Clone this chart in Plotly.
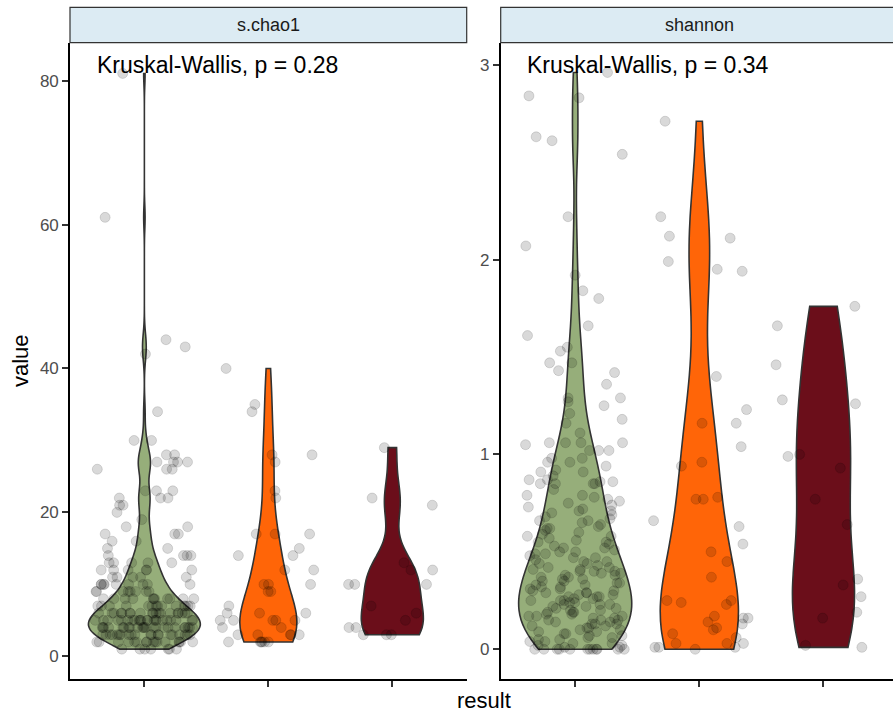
import numpy as np
import plotly.graph_objects as go

W, H = 893, 715

# ---------------- data ----------------
colors = ["#96AE7A", "#FF6508", "#6B0E1A"]

chao1_g1 = [1, 1, 1, 1, 1, 1, 1,
            2, 2, 2, 2, 2, 2, 2, 2, 2, 2, 2, 2, 2, 2, 2, 2,
            3, 3, 3, 3, 3, 3, 3, 3, 3, 3, 3, 3, 3, 3, 3, 3, 3, 3, 3, 3,
            4, 4, 4, 4, 4, 4, 4, 4, 4, 4, 4, 4, 4, 4, 4, 4, 4, 4, 4, 4, 4, 4, 4,
            5, 5, 5, 5, 5, 5, 5, 5, 5, 5, 5, 5, 5, 5, 5, 5, 5, 5, 5, 5, 5, 5,
            6, 6, 6, 6, 6, 6, 6, 6, 6, 6, 6, 6, 6, 6, 6, 6, 6, 6, 6,
            7, 7, 7, 7, 7, 7, 7, 7, 7, 7, 7, 7, 7, 7,
            8, 8, 8, 8, 8, 8, 8, 8, 8, 8, 8,
            9, 9, 9, 9, 9, 9, 9, 9,
            10, 10, 10, 10, 10, 10, 10, 10, 10,
            11, 11, 11, 11, 11,
            12, 12, 12, 12, 12, 12,
            13, 13, 13, 13, 13,
            14, 14, 14, 14,
            15, 15, 16, 16, 17, 17, 17, 18, 18, 19, 20,
            21, 21, 22, 22, 22, 23, 23, 23,
            26, 26, 26, 27, 27, 27, 27, 28, 28, 30, 30, 34,
            42, 43, 44, 61, 81]
chao1_g2 = [40, 35, 34, 28, 28, 27, 23, 22, 17, 17, 17, 15, 14, 14, 12, 12,
            10, 10, 10, 9, 9, 7, 6, 6, 6, 5, 5, 5, 5, 5, 4, 4, 3, 3, 3, 3, 3,
            2, 2, 2, 2, 2, 2]
chao1_g3 = [29, 22, 21, 13, 12, 12, 10, 10, 10, 7, 6, 5, 4, 4, 3, 3, 3]

shannon_g1 = [2.96, 2.83, 2.84, 2.63, 2.61, 2.54, 2.22, 2.07, 1.92, 1.84, 1.80,
              1.66, 1.61, 1.55, 1.53, 1.47, 1.47, 1.43, 1.42, 1.36, 1.29, 1.29,
              1.27, 1.25, 1.21, 1.18, 1.16, 1.11, 1.06, 1.06, 1.06, 1.06, 1.05,
              1.02, 1.02, 1.02,
              0.98, 0.98, 0.96, 0.94, 0.96, 0.91, 0.92, 0.91, 0.86, 0.85, 0.85,
              0.89, 0.87, 0.85, 0.86, 0.87, 0.85, 0.82, 0.79, 0.79,
              0.78, 0.77, 0.76, 0.75, 0.74, 0.73, 0.72, 0.71, 0.71, 0.70,
              0.69, 0.68, 0.67, 0.66, 0.66, 0.65, 0.64, 0.63, 0.62, 0.62, 0.61, 0.60,
              0.59, 0.58, 0.58, 0.57, 0.56, 0.55, 0.55, 0.54, 0.53, 0.52, 0.52,
              0.51, 0.50, 0.50,
              0.49, 0.49, 0.48, 0.47, 0.47, 0.46, 0.45, 0.45, 0.44, 0.44, 0.43,
              0.42, 0.42, 0.41, 0.41, 0.40, 0.40, 0.40,
              0.39, 0.39, 0.38, 0.38, 0.37, 0.37, 0.36, 0.36, 0.35, 0.35, 0.34,
              0.34, 0.33, 0.33, 0.32, 0.32, 0.31, 0.31, 0.30, 0.30,
              0.29, 0.29, 0.29, 0.28, 0.28, 0.27, 0.27, 0.27, 0.26, 0.26, 0.25,
              0.25, 0.25, 0.24, 0.24, 0.23, 0.23, 0.23, 0.22, 0.22, 0.21, 0.21,
              0.20, 0.20,
              0.19, 0.19, 0.19, 0.18, 0.18, 0.17, 0.17, 0.17, 0.16, 0.16, 0.15,
              0.15, 0.15, 0.14, 0.14, 0.13, 0.13, 0.13, 0.12, 0.12, 0.11, 0.11,
              0.10, 0.10,
              0.09, 0.09, 0.08, 0.08, 0.07, 0.07, 0.06, 0.06, 0.05, 0.05, 0.04,
              0.04, 0.03, 0.03, 0.02, 0.02, 0.01, 0.01,
              0.0, 0.0, 0.0, 0.0, 0.0, 0.0, 0.0, 0.0, 0.0, 0.0, 0.0, 0.0]
shannon_g2 = [2.71, 2.22, 2.11, 2.12, 1.99, 1.95, 1.94, 1.40, 1.23, 1.16, 1.16,
              1.04, 0.96, 0.94, 0.78, 0.77, 0.77, 0.66, 0.63, 0.54, 0.50, 0.45,
              0.37, 0.23, 0.25, 0.24, 0.25, 0.16, 0.16, 0.17, 0.13, 0.14, 0.11,
              0.10, 0.08, 0.03, 0.06, 0.03, 0.03, 0.01, 0.01, 0.00, 0.01]
shannon_g3 = [1.76, 1.66, 1.46, 1.26, 1.28, 1.00, 0.99, 0.93, 0.77, 0.64, 0.36,
              0.33, 0.27, 0.16, 0.19, 0.02, 0.01]

facets = ["s.chao1", "shannon"]
p_values = [0.28, 0.34]
chao1_ticks = [0, 20, 40, 60, 80]
shannon_ticks = [0, 1, 2, 3]

chao1_data = [chao1_g1, chao1_g2, chao1_g3]
shannon_data = [shannon_g1, shannon_g2, shannon_g3]

# visual max widths of each violin (ggplot scale="area" look), in category units
chao1_widths = [0.90, 0.46, 0.50]
shannon_widths = [0.91, 0.63, 0.50]


def nrd0(v):
    v = np.asarray(v, dtype=float)
    sd = np.std(v, ddof=1)
    q75, q25 = np.percentile(v, [75, 25])
    lo = min(sd, (q75 - q25) / 1.34)
    if lo == 0:
        lo = sd if sd > 0 else 1.0
    return 0.9 * lo * len(v) ** -0.2


def jitter(n, seed, half=0.4):
    # deterministic hash-based horizontal spread (mimics geom_jitter width=0.4)
    out = []
    for k in range(n):
        h = np.sin((k + 1) * 12.9898 + seed * 78.233) * 43758.5453
        out.append(((h - np.floor(h)) - 0.5) * 2 * half)
    return out


fig = go.Figure()

panels = [("x", "y", chao1_data, chao1_widths), ("x2", "y2", shannon_data, shannon_widths)]

for xa, ya, data, widths in panels:
    for i, vals in enumerate(data):
        fig.add_trace(go.Violin(
            x0=i, y=vals, xaxis=xa, yaxis=ya,
            width=widths[i], scalemode="width", spanmode="hard",
            bandwidth=nrd0(vals), points=False,
            fillcolor=colors[i], opacity=1,
            line=dict(color="#333333", width=1.6),
            showlegend=False, hoverinfo="y",
        ))
for p, (xa, ya, data, widths) in enumerate(panels):
    for i, vals in enumerate(data):
        offs = jitter(len(vals), seed=p * 3 + i + 1)
        fig.add_trace(go.Scatter(
            x=[i + o for o in offs], y=vals, xaxis=xa, yaxis=ya,
            mode="markers",
            marker=dict(size=10, color="rgba(0,0,0,0.15)",
                        line=dict(width=0.8, color="rgba(0,0,0,0.16)")),
            showlegend=False, hoverinfo="y",
        ))


def px(xp):
    return xp / W


def py(yp):
    return 1 - yp / H


ydom = [py(679.3), py(42.7)]
axis_common = dict(showgrid=False, zeroline=False, showline=True,
                   linecolor="black", linewidth=1.6, ticks="outside",
                   ticklen=6, tickwidth=1.6, tickcolor="#333333",
                   tickfont=dict(family="Liberation Sans, Arial, sans-serif",
                                 size=17, color="#4D4D4D"))

fig.update_layout(
    width=W, height=H,
    margin=dict(l=0, r=0, t=0, b=0),
    paper_bgcolor="white", plot_bgcolor="white",
    violinmode="overlay",
    font=dict(family="Liberation Sans, Arial, sans-serif"),
    xaxis=dict(domain=[px(70), px(466.7)], range=[-0.6, 2.6], tickvals=[0, 1, 2],
               ticktext=["", "", ""], anchor="y", **axis_common),
    yaxis=dict(domain=ydom, range=[-3.19, 85.27], tickvals=chao1_ticks,
               anchor="x", **axis_common),
    xaxis2=dict(domain=[px(500.7), 1.0], range=[-0.6, 2.56], tickvals=[0, 1, 2],
                ticktext=["", "", ""], anchor="y2", **axis_common),
    yaxis2=dict(domain=ydom, range=[-0.154, 3.113], tickvals=shannon_ticks,
                anchor="x2", **axis_common),
)

# facet strips
strips = [(70, 466.7, 268.3), (500.7, 900, 699)]
for (x0, x1, xc), name in zip(strips, facets):
    fig.add_shape(type="rect", xref="paper", yref="paper",
                  x0=px(x0), x1=px(x1), y0=py(42.7), y1=py(7.3),
                  fillcolor="#DCEBF3", line=dict(color="#333333", width=1.2))
    fig.add_annotation(xref="paper", yref="paper", x=px(xc), y=py(25),
                       text=name, showarrow=False,
                       font=dict(size=18, color="#1A1A1A"),
                       xanchor="center", yanchor="middle")

# Kruskal-Wallis labels
for xstart, p in zip([94.5, 524.5], p_values):
    fig.add_annotation(xref="paper", yref="paper", x=px(xstart), y=py(65),
                       text=f"Kruskal-Wallis, p = {p:.2f}", showarrow=False,
                       font=dict(size=23, color="black"),
                       xanchor="left", yanchor="middle")

# axis titles
fig.add_annotation(xref="paper", yref="paper", x=px(20), y=py(361), text="value",
                   textangle=-90, showarrow=False, font=dict(size=22, color="black"),
                   xanchor="center", yanchor="middle")
fig.add_annotation(xref="paper", yref="paper", x=px(484), y=py(700), text="result",
                   showarrow=False, font=dict(size=22, color="black"),
                   xanchor="center", yanchor="middle")

fig.write_html("out.html")
